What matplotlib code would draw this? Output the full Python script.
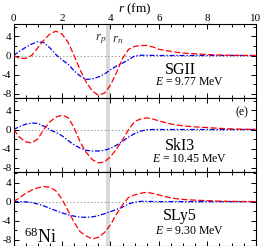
import numpy as np
import matplotlib
matplotlib.use("Agg")
import matplotlib.pyplot as plt
from matplotlib.ticker import MultipleLocator

plt.rcParams['font.family'] = ['Liberation Serif', 'DejaVu Serif']
plt.rcParams['mathtext.fontset'] = 'custom'
plt.rcParams['mathtext.rm'] = 'Liberation Serif'
plt.rcParams['mathtext.it'] = 'Liberation Serif:italic'
plt.rcParams['axes.unicode_minus'] = False
plt.rcParams['lines.scale_dashes'] = False

# ---- data ----
r = [0, 0.25, 0.5, 0.75, 1.0, 1.25, 1.5, 1.75, 2.0, 2.25, 2.5, 2.75, 3.0, 3.25,
     3.5, 3.75, 4.0, 4.25, 4.5, 4.75, 5.0, 5.25, 5.5, 5.75, 6.0, 6.5, 7.0, 7.5,
     8.0, 8.5, 9.0, 9.5, 10.0]

sgii_red = [0, -0.6, -0.6, 0.0, 1.6, 3.2, 4.5, 5.1, 4.5, 2.8, 0.0, -3.0, -5.6, -7.4,
            -8.3, -7.9, -6.2, -3.6, -0.6, 1.3, 1.9, 2.1, 2.1, 1.8, 1.3, 0.85, 0.5, 0.35,
            0.2, 0.1, 0.05, 0.02, 0]
sgii_blue = [0, 0.9, 1.7, 2.4, 2.9, 2.7, 1.6, 0.2, -0.9, -1.8, -3.2, -4.3, -5.0, -4.9,
             -4.5, -3.9, -3.0, -2.2, -1.6, -0.85, -0.1, 0.05, 0.05, 0.02, 0, 0, 0, 0,
             0, 0, 0, 0, 0]

ski3_red = [0, -1.6, -2.6, -2.8, -2.0, 0.0, 1.6, 2.6, 3.0, 2.5, 0.4, -2.6, -4.8, -6.3,
            -7.0, -6.8, -5.7, -4.1, -2.2, 0.0, 1.7, 2.2, 2.45, 2.2, 1.8, 1.15, 0.75, 0.55,
            0.4, 0.25, 0.12, 0.06, 0.03]
ski3_blue = [0, 0.6, 1.1, 1.35, 1.3, 0.7, -0.05, -0.6, -1.3, -2.3, -3.2, -3.9, -4.35, -4.5,
             -4.5, -4.35, -3.95, -3.3, -2.45, -1.6, -0.85, -0.35, -0.05, 0, 0, 0, 0, 0,
             0, 0, 0, 0, 0]

sly5_red = [0, 0.8, 1.7, 2.4, 2.9, 3.15, 3.0, 2.25, 0.5, -1.9, -4.3, -6.3, -7.2, -7.8,
            -7.5, -6.5, -4.9, -2.6, -0.7, 0.9, 1.4, 1.75, 1.95, 1.7, 1.4, 0.75, 0.45, 0.3,
            0.2, 0.1, 0.05, 0.02, 0]
sly5_blue = [0, 0, -0.05, -0.2, -0.5, -0.9, -1.4, -1.9, -2.35, -2.75, -3.05, -3.25, -3.3, -3.2,
             -2.95, -2.55, -2.1, -1.65, -1.15, -0.5, -0.1, 0.05, 0.05, 0.02, 0, 0, 0, 0,
             0, 0, 0, 0, 0]

models = ['SGII', 'SkI3', 'SLy5']
energies = ['9.77', '10.45', '9.30']
reds = [sgii_red, ski3_red, sly5_red]
blues = [sgii_blue, ski3_blue, sly5_blue]
r_p, r_n = 3.81, 3.99
x_ticks = [0, 2, 4, 6, 8, 10]
y_ticks = [4, 0, -4, -8]
ylims = [(-8.9, 6.6), (-8.9, 6.6), (-9.3, 6.2)]

# ---- layout ----
W, H = 263, 246
fig = plt.figure(figsize=(W / 100, H / 100), dpi=100)
left = 13.5 / W
width = (255.8 - 13.5) / W
tops = [24, 98, 172]
ph = 74

axes = []
for i in range(3):
    ax = fig.add_axes([left, 1 - (tops[i] + ph) / H, width, ph / H])
    axes.append(ax)
    ax.axvspan(r_p, r_n, color='#d9d9d9', lw=0, zorder=0)
    ax.axhline(0, color='#888888', lw=0.6, ls=(0, (1, 1.5)), zorder=1)
    ax.plot(r, reds[i], color='#ff0000', lw=0.9, dashes=(4.3, 1.8), zorder=3)
    ax.plot(r, blues[i], color='#0000ee', lw=0.9, dashes=(3.6, 1.3, 1.0, 1.3), zorder=2)
    ax.set_xlim(0, 10)
    ax.set_ylim(*ylims[i])
    ax.set_xticks(x_ticks)
    ax.set_yticks(y_ticks)
    ax.xaxis.set_minor_locator(MultipleLocator(0.5))
    ax.yaxis.set_minor_locator(MultipleLocator(2))
    ax.tick_params(which='both', direction='in', top=True, right=True, width=0.7,
                   labelsize=8, pad=1.5)
    ax.tick_params(which='major', length=3.5)
    ax.tick_params(which='minor', length=2)
    ax.tick_params(axis='x', labelbottom=False, labeltop=(i == 0), pad=1)
    for s in ax.spines.values():
        s.set_linewidth(0.8)
    ax.text(0.687, 0.38 if i == 0 else (0.35 if i == 1 else 0.40), models[i],
            transform=ax.transAxes, ha='center', va='center', fontsize=11.5)
    ax.text(0.728, 0.21 if i == 0 else (0.17 if i == 1 else 0.20),
            r'$E$ = ' + energies[i] + ' MeV',
            transform=ax.transAxes, ha='center', va='center', fontsize=8.5)

axes[0].set_xlabel(r'$r$ (fm)', fontsize=9.5, labelpad=1)
axes[0].xaxis.set_label_position('top')
axes[0].text(3.6, 0.79, r'$r_p$', transform=axes[0].get_xaxis_transform(),
             ha='center', va='center', fontsize=9.5, color='#333333')
axes[0].text(4.3, 0.79, r'$r_n$', transform=axes[0].get_xaxis_transform(),
             ha='center', va='center', fontsize=9.5, color='#333333')
axes[1].text(0.942, 0.81, '(e)', transform=axes[1].transAxes,
             ha='center', va='center', fontsize=8.5)
axes[2].text(0.11, 0.12, r'$^{68}$Ni', transform=axes[2].transAxes,
             ha='center', va='center', fontsize=13)

fig.savefig('out.png', dpi=100)
